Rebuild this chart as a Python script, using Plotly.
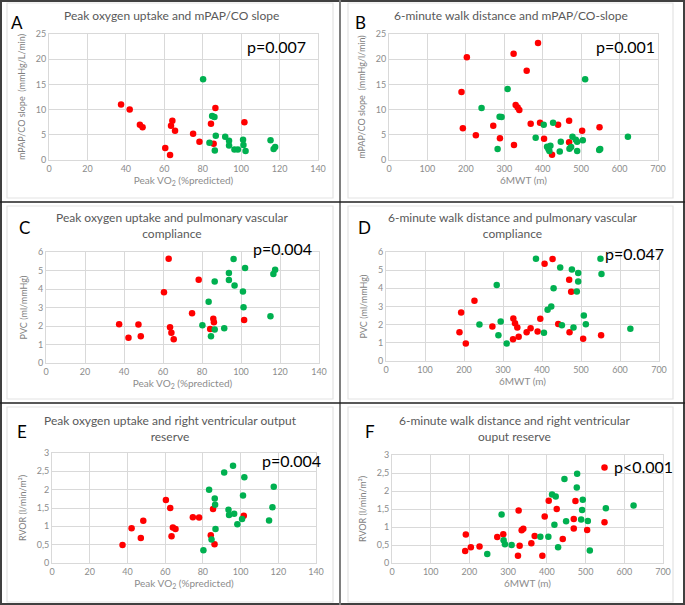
import plotly.graph_objects as go

W, H = 685, 605

# ---------------- data ----------------
a_red_x = [37.5, 42, 47.3, 48.7, 60.5, 63, 63.5, 64.2, 65.6, 75, 78.3, 84.3, 85.7, 86.6, 101.7]
a_red_y = [11, 10, 7, 6.5, 2.4, 1, 6.8, 7.8, 5.8, 5.2, 3.6, 7.2, 3.2, 10.3, 7.5]
a_green_x = [80.2, 83.5, 84.9, 86.1, 86.3, 86.8, 91.7, 93.7, 93.7, 96.5, 98.3, 101, 101.2, 102.3, 115.3, 116.9, 117.7]
a_green_y = [16, 3.4, 8.75, 8.55, 1.9, 4.8, 4.6, 3.8, 2.9, 2.1, 2.1, 4.0, 3.0, 1.8, 3.9, 2.2, 2.6]

b_red_x = [188.7, 192.2, 202.6, 226, 271.3, 288.7, 324.3, 325.2, 329.6, 334.8, 339.1, 358.3, 368.7, 387.8, 393, 403.5, 424.3, 440, 468.7, 468.7, 502.6, 547.8]
b_red_y = [13.5, 6.3, 20.4, 4.9, 6.8, 4.3, 21.1, 3.0, 10.9, 10.4, 9.9, 17.7, 7.2, 23.2, 7.4, 4.2, 1.06, 7.0, 7.8, 3.5, 5.8, 6.5]
b_green_x = [240.9, 282.6, 287.8, 293, 308.7, 381.7, 402.6, 411.3, 414.8, 417.4, 420, 427, 444.3, 447, 469.6, 473.9, 477.4, 486.1, 489.6, 489.6, 504.3, 510.4, 547, 549.6, 621.7]
b_green_y = [10.3, 2.2, 8.6, 8.55, 14.1, 4.4, 7.0, 2.65, 2.2, 1.8, 2.85, 7.4, 1.7, 3.6, 2.25, 2.6, 4.6, 4.0, 3.6, 1.8, 3.9, 16.0, 2.0, 2.2, 4.6]

c_red_x = [37.5, 42.3, 47.4, 48.6, 60.5, 62.9, 63.6, 64.3, 65.5, 74.9, 78.3, 84.2, 85.8, 86.1, 101.6]
c_red_y = [2.1, 1.36, 2.08, 1.45, 3.83, 5.64, 1.93, 1.63, 1.28, 2.69, 4.5, 1.84, 2.39, 2.2, 2.33]
c_green_x = [80.2, 83.4, 84.6, 86.5, 86.5, 91.4, 93.8, 93.8, 96.2, 96.7, 101, 101.3, 102.1, 115.1, 116.6, 117.5]
c_green_y = [2.04, 3.31, 1.45, 4.41, 1.81, 1.88, 4.86, 4.48, 5.62, 4.19, 3.87, 3.02, 5.13, 2.53, 4.81, 5.04]

d_red_x = [188.4, 192.7, 204.6, 226.8, 272.8, 325.7, 326.5, 330.8, 336.7, 340.2, 360.6, 370.8, 388.7, 395.6, 406.6, 427.1, 441.6, 469.7, 470.6, 474.8, 505.5, 551.6]
d_red_y = [1.58, 2.67, 0.96, 3.31, 1.9, 1.2, 2.34, 2.08, 1.84, 1.33, 1.58, 1.8, 1.62, 2.32, 5.36, 5.61, 2.04, 4.47, 1.58, 3.81, 1.23, 1.42]
d_green_x = [239.6, 283.9, 288.2, 294.1, 309.5, 384.5, 405, 414.3, 423.7, 429.7, 446.7, 451, 476.6, 480.8, 489.3, 492.8, 492.8, 507.2, 512.4, 549.9, 552.5, 626.6]
d_green_y = [2.01, 4.18, 1.42, 2.17, 0.96, 5.63, 1.55, 2.82, 3.0, 4.01, 5.14, 1.97, 5.04, 1.84, 3.83, 4.38, 4.84, 2.5, 2.02, 5.63, 4.79, 1.77]

e_red_x = [37.4, 42.2, 47.1, 48.4, 60.4, 62.7, 63.4, 64.1, 65.5, 74.7, 78, 84.2, 85.4, 86.2, 101.7]
e_red_y = [0.49, 0.95, 0.68, 1.15, 1.72, 1.5, 0.73, 0.97, 0.93, 1.25, 1.24, 0.76, 1.47, 0.51, 1.29]
e_green_x = [80.3, 83.3, 84.6, 86.3, 86.5, 86.7, 91.3, 93.6, 93.9, 96, 96.6, 98.3, 100.8, 101.3, 102, 115.1, 116.9, 117.6]
e_green_y = [0.35, 2.0, 0.64, 1.76, 1.59, 0.93, 2.47, 1.45, 1.31, 2.65, 1.34, 1.06, 1.2, 1.84, 2.34, 1.16, 1.52, 2.08]

f_red_x = [189, 190.7, 203.7, 226.1, 271.9, 287.4, 325.4, 327.1, 329.7, 334.9, 339.2, 359.9, 368.5, 388.4, 394.4, 404.8, 425.5, 441.1, 469.5, 469.5, 473.8, 504.1, 548.9, 548.9]
f_red_y = [0.33, 0.79, 0.44, 0.46, 0.72, 0.8, 0.2, 1.46, 0.48, 0.91, 0.95, 0.55, 0.75, 0.2, 1.29, 1.73, 1.5, 0.67, 1.22, 0.96, 1.72, 0.92, 1.13, 2.65]
f_green_x = [246, 283.1, 288.3, 291.7, 309, 383.2, 403.9, 413.4, 419.5, 422.9, 429, 445.4, 449.7, 477.3, 478.2, 488.5, 491.1, 492.8, 505.8, 511, 552.4, 624]
f_green_y = [0.25, 1.35, 0.63, 0.52, 0.5, 0.73, 0.73, 1.9, 1.06, 1.85, 0.44, 2.33, 1.16, 2.1, 2.48, 1.21, 1.47, 1.76, 1.17, 0.35, 1.52, 1.6]

titles = ["Peak oxygen uptake and mPAP/CO slope",
          "6-minute walk distance and mPAP/CO-slope",
          "Peak oxygen uptake and pulmonary vascular<br>compliance",
          "6-minute walk distance and pulmonary vascular<br>compliance",
          "Peak oxygen uptake and right ventricular output<br>reserve",
          "6-minute walk distance and right ventricular<br>ouput reserve"]
letters = ["A", "B", "C", "D", "E", "F"]
pvalues = ["p=0.007", "p=0.001", "p=0.004", "p=0.047", "p=0.004", "p<0.001"]
xtitles = ["Peak VO<sub>2</sub> (%predicted)", "6MWT (m)"] * 3
ytitles = ["mPAP/CO slope  (mmHg/L/min)", "mPAP/CO slope  (mmHg/l/min)",
           "PVC (ml/mmHg)", "PVC (ml/mmHg)",
           "RVOR (l/min/m²)", "RVOR (l/min/m²)"]
rvor_ticks = [0, 0.5, 1, 1.5, 2, 2.5, 3]
rvor_labels = ["0", "0,5", "1", "1,5", "2", "2,5", "3"]

series = [(a_red_x, a_red_y, a_green_x, a_green_y),
          (b_red_x, b_red_y, b_green_x, b_green_y),
          (c_red_x, c_red_y, c_green_x, c_green_y),
          (d_red_x, d_red_y, d_green_x, d_green_y),
          (e_red_x, e_red_y, e_green_x, e_green_y),
          (f_red_x, f_red_y, f_green_x, f_green_y)]

# ---------------- layout geometry (pixels) ----------------
plot_px = [(49, 318, 34, 160), (389, 658, 34, 160),
           (46, 319, 252, 363), (386, 659, 252, 361),
           (52, 316, 453, 563), (392, 663, 455, 563)]
title_px = [(171, 16), (511, 16), (172, 225), (513, 225), (170, 428), (514, 428)]
letter_px = [(17, 22), (360, 22), (25, 227), (364, 227), (22, 431), (370, 431)]
p_px = [(276, 47), (625, 47), (282, 248), (634, 253), (291, 460), (643, 466)]
yrange = [[0, 25], [0, 25], [0, 6], [0, 6], [0, 3], [0, 3]]
ydtick = [5, 5, 1, 1, 0.5, 0.5]
xrange = [[0, 140], [0, 700]] * 3
xdtick = [20, 100] * 3

def px(x):
    return x / W

def py(y):
    return 1 - y / H

FONT = "Lato"
RED = "#ff0000"
GREEN = "#00b050"
GRID = "#d9d9d9"
TICK = "#8c8c8c"

fig = go.Figure()
layout = dict(width=W, height=H, autosize=False,
              margin=dict(l=0, r=0, t=0, b=0, autoexpand=False),
              paper_bgcolor="white", plot_bgcolor="white",
              showlegend=False, font=dict(family=FONT, color="#595959"))
annotations = []
shapes = []

for i in range(6):
    n = "" if i == 0 else str(i + 1)
    rx, ry, gx, gy = series[i]
    for xs, ys, col in ((rx, ry, RED), (gx, gy, GREEN)):
        fig.add_trace(go.Scatter(x=xs, y=ys, mode="markers", xaxis="x" + n, yaxis="y" + n,
                                 marker=dict(color=col, size=6.5, line=dict(width=0)),
                                 hoverinfo="x+y"))
    x0, x1, y0, y1 = plot_px[i]
    xa = dict(domain=[px(x0), px(x1)], anchor="y" + n, range=xrange[i], dtick=xdtick[i],
              tick0=0, showgrid=True, gridcolor=GRID, gridwidth=1, zeroline=False,
              showline=True, linecolor=GRID, mirror=True, ticks="", automargin=False,
              tickfont=dict(size=9, color=TICK, family=FONT),
              title=dict(text=xtitles[i], font=dict(size=10, color=TICK, family=FONT), standoff=3))
    ya = dict(domain=[py(y1), py(y0)], anchor="x" + n, range=yrange[i], dtick=ydtick[i],
              tick0=0, showgrid=True, gridcolor=GRID, gridwidth=1, zeroline=False,
              showline=True, linecolor=GRID, mirror=True, ticks="", automargin=False,
              tickfont=dict(size=9, color=TICK, family=FONT),
              title=dict(text=ytitles[i], font=dict(size=9, color="#7f7f7f", family=FONT), standoff=8))
    if i >= 4:
        ya["tickvals"] = rvor_ticks
        ya["ticktext"] = rvor_labels
    layout["xaxis" + n] = xa
    layout["yaxis" + n] = ya

    tx, ty = title_px[i]
    annotations.append(dict(text=titles[i], x=px(tx), y=py(ty), xref="paper", yref="paper",
                            xanchor="center", yanchor="middle", showarrow=False,
                            font=dict(size=12, color="#595959", family=FONT)))
    lx, ly = letter_px[i]
    annotations.append(dict(text=letters[i], x=px(lx), y=py(ly), xref="paper", yref="paper",
                            xanchor="center", yanchor="middle", showarrow=False,
                            font=dict(size=17, color="black", family=FONT)))
    qx, qy = p_px[i]
    annotations.append(dict(text=pvalues[i], x=px(qx), y=py(qy), xref="paper", yref="paper",
                            xanchor="center", yanchor="middle", showarrow=False,
                            font=dict(size=16, color="black", family=FONT)))

# chart-area boxes (light) and panel dividers (dark)
boxes = [(7, 333, 3, 198), (348, 673, 3, 198), (7, 333, 206, 399),
         (348, 673, 206, 399), (7, 333, 407, 602), (348, 673, 407, 602)]
for (b0, b1, c0, c1) in boxes:
    shapes.append(dict(type="rect", xref="paper", yref="paper", x0=px(b0), x1=px(b1),
                       y0=py(c1), y1=py(c0), line=dict(color="#e3e3e3", width=1.2), layer="below"))
shapes.append(dict(type="rect", xref="paper", yref="paper", x0=px(1), x1=px(684), y0=py(604), y1=py(1),
                   line=dict(color="#404040", width=2)))
shapes.append(dict(type="line", xref="paper", yref="paper", x0=px(340), x1=px(340), y0=0, y1=1,
                   line=dict(color="#7f7f7f", width=2)))
for yy in (202, 403):
    shapes.append(dict(type="line", xref="paper", yref="paper", x0=0, x1=1, y0=py(yy), y1=py(yy),
                       line=dict(color="#202020", width=1.5)))

layout["annotations"] = annotations
layout["shapes"] = shapes
fig.update_layout(**layout)
fig.write_html("out.html", config={"displayModeBar": False},
               post_script="document.body.style.margin='0px';document.body.style.padding='0px';")
